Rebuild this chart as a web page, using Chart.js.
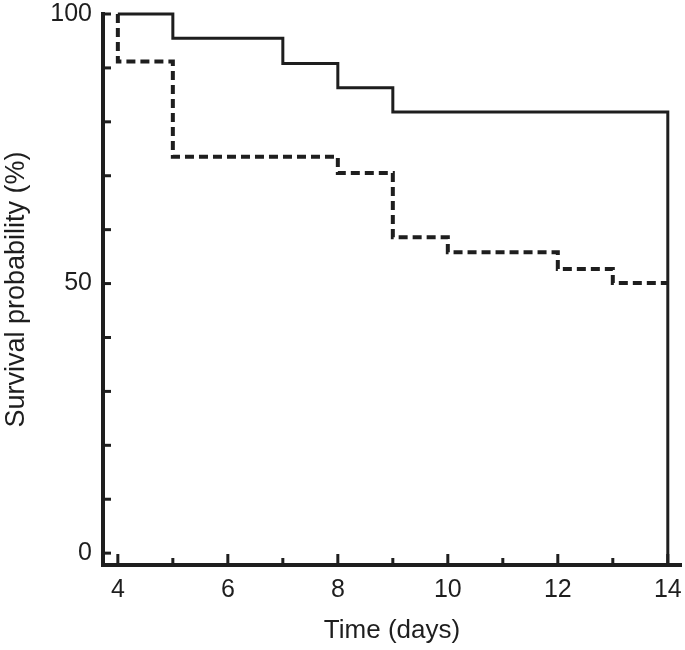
<!DOCTYPE html>
<html>
<head>
<meta charset="utf-8">
<script src="https://cdn.jsdelivr.net/npm/chart.js@4/dist/chart.umd.min.js"></script>
<style>
  html, body { margin: 0; padding: 0; background: #fff; }
  #wrap { width: 685px; height: 650px; }
</style>
</head>
<body>
<div id="wrap"><canvas id="c" width="685" height="650"></canvas></div>
<script>
// Kaplan–Meier style survival curves
const solidDays  = [4, 5, 7, 8, 9, 14, 14];
const solidSurv  = [100, 95.5, 90.8, 86.3, 81.8, 81.8, -2.2];
const dashedDays = [4, 4, 5, 8, 9, 10, 12, 13, 14];
const dashedSurv = [100, 91.2, 73.5, 70.5, 58.6, 55.8, 52.7, 50.1, 50.1];

const xTickLabels = [4, 6, 8, 10, 12, 14];
const yTickLabels = [0, 50, 100];
const xMinorTicks = [4, 5, 6, 7, 8, 9, 10, 11, 12, 13, 14];
const yMinorTicks = [0, 10, 20, 30, 40, 50, 60, 70, 80, 90, 100];

const INK = '#1e1e1e';
const toPts = (xs, ys) => xs.map((x, i) => ({ x: x, y: ys[i] }));

const innerTicks = {
  id: 'innerTicks',
  afterDraw(chart) {
    const { ctx, chartArea } = chart;
    const xs = chart.scales.x, ys = chart.scales.y;
    ctx.save();
    ctx.strokeStyle = INK;
    ctx.lineWidth = 3;
    yMinorTicks.forEach(v => {
      const py = ys.getPixelForValue(v);
      ctx.beginPath();
      ctx.moveTo(chartArea.left, py);
      ctx.lineTo(chartArea.left + 8, py);
      ctx.stroke();
    });
    xMinorTicks.forEach(v => {
      const px = xs.getPixelForValue(v);
      const len = (v % 2 === 0) ? 11 : 7;
      ctx.beginPath();
      ctx.moveTo(px, chartArea.bottom);
      ctx.lineTo(px, chartArea.bottom - len);
      ctx.stroke();
    });
    ctx.restore();
  }
};

new Chart(document.getElementById('c'), {
  type: 'line',
  data: {
    datasets: [
      {
        label: 'solid',
        data: toPts(solidDays, solidSurv),
        borderColor: INK,
        borderWidth: 3,
        stepped: 'before',
        pointRadius: 0,
        fill: false,
        clip: false
      },
      {
        label: 'dashed',
        data: toPts(dashedDays, dashedSurv),
        borderColor: INK,
        borderWidth: 4,
        borderDash: [9, 5],
        stepped: 'before',
        pointRadius: 0,
        fill: false,
        clip: false
      }
    ]
  },
  options: {
    responsive: false,
    animation: false,
    devicePixelRatio: 1,
    layout: { padding: { top: 14, right: 4, left: 0, bottom: 0 } },
    plugins: { legend: { display: false }, tooltip: { enabled: false } },
    scales: {
      x: {
        type: 'linear',
        min: 3.73,
        max: 14.24,
        afterBuildTicks: s => { s.ticks = xTickLabels.map(v => ({ value: v })); },
        afterFit: s => { s.height = 85; s.paddingLeft = 0; s.paddingRight = 0; },
        grid: { display: false, drawTicks: false },
        border: { display: true, color: INK, width: 4 },
        ticks: { color: INK, padding: 10, font: { family: 'Liberation Sans', size: 25 }, maxRotation: 0, autoSkip: false },
        title: { display: true, text: 'Time (days)', color: INK, font: { family: 'Liberation Sans', size: 26 }, padding: { top: 0, bottom: 4 } }
      },
      y: {
        type: 'linear',
        min: -2.2,
        max: 100,
        afterBuildTicks: s => { s.ticks = yTickLabels.map(v => ({ value: v })); },
        afterFit: s => { s.width = 103; s.paddingTop = 0; s.paddingBottom = 0; },
        grid: { display: false, drawTicks: false },
        border: { display: true, color: INK, width: 4 },
        ticks: { color: INK, padding: 11, font: { family: 'Liberation Sans', size: 25 }, autoSkip: false },
        title: { display: true, text: 'Survival probability (%)', color: INK, font: { family: 'Liberation Sans', size: 27 }, padding: { top: 0, bottom: 0 } }
      }
    }
  },
  plugins: [innerTicks]
});
</script>
</body>
</html>
